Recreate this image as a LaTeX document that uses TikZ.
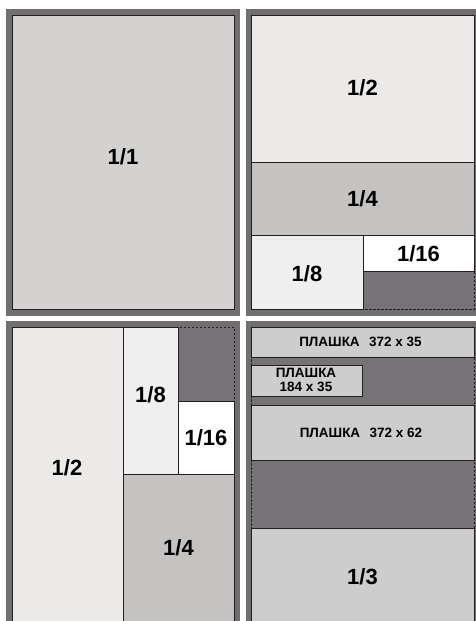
\documentclass[tikz,border=0pt]{standalone}
\usepackage{fontspec}
\setmainfont{Liberation Sans}
\definecolor{framegray}{RGB}{112,110,112}
\definecolor{pone}{RGB}{211,210,209}
\definecolor{half}{RGB}{235,234,232}
\definecolor{quarter}{RGB}{196,195,193}
\definecolor{eighth}{RGB}{238,239,238}
\definecolor{darkfill}{RGB}{117,115,117}
\definecolor{plash}{RGB}{205,205,205}
\definecolor{lineblack}{RGB}{35,31,32}
\begin{document}
\begin{tikzpicture}[x=1pt,y=-1pt,
  box/.style={draw=lineblack,line width=0.8pt},
  innerline/.style={draw=lineblack,line width=0.8pt,dash pattern=on 2.5pt off 1.5pt},
  frac/.style={font=\fontsize{22}{26}\selectfont\bfseries,text=black,inner sep=0pt},
  plashtext/.style={font=\fontsize{13.5}{13.5}\selectfont\bfseries,text=black,align=center,inner sep=0pt}]
\useasboundingbox (0,0) rectangle (476,621);
\fill[white] (0,0) rectangle (476,621);
\clip (0,0) rectangle (476,621);
% frames
\fill[framegray] (6,9) rectangle (240,316);
\fill[framegray] (246,9) rectangle (484,316);
\fill[framegray] (6,321) rectangle (240,630);
\fill[framegray] (246,321) rectangle (484,630);
% panel 1
\draw[box,fill=pone] (12,15) rectangle (234,309);
\node[frac] (t11) at (123,157) {1/1};
% panel 2
\fill[darkfill] (251,15) rectangle (474,309);
\draw[box,fill=half] (251,15) rectangle (474,162);
\draw[box,fill=quarter] (251,162) rectangle (474,235);
\draw[box,fill=eighth] (251,235) rectangle (363,309);
\draw[box,fill=white] (363,235) rectangle (474,271);
\draw[innerline] (251,15) rectangle (474,309);
\node[frac] (b12) at (362.5,88) {1/2};
\node[frac] (b14) at (362.5,199) {1/4};
\node[frac] (b18) at (307,274) {1/8};
\node[frac] (b116) at (418.5,254) {1/16};
% panel 3
\fill[darkfill] (12,327) rectangle (234,640);
\draw[box,fill=half] (12,327) rectangle (123,640);
\draw[box,fill=eighth] (123,327) rectangle (178,474);
\draw[box,fill=white] (178,401) rectangle (234,474);
\draw[box,fill=quarter] (123,474) rectangle (234,640);
\draw[innerline] (12,327) rectangle (234,640);
\node[frac] (c12) at (67,468) {1/2};
\node[frac] (c18) at (150.5,395) {1/8};
\node[frac] (c116) at (206,437.5) {1/16};
\node[frac] (c14) at (178.5,548) {1/4};
% panel 4
\fill[darkfill] (251,327) rectangle (474,640);
\draw[box,fill=plash] (251,327) rectangle (474,357);
\draw[box,fill=plash] (251,365) rectangle (362,396);
\draw[box,fill=plash] (251,405) rectangle (474,460);
\draw[box,fill=plash] (251,528) rectangle (474,640);
\draw[innerline] (251,327) rectangle (474,640);
\node[plashtext] (pl1) at (360.5,342) {ПЛАШКА\hspace{0.7em}372 x 35};
\node[plashtext] (pl2) at (306,380) {ПЛАШКА\\184 x 35};
\node[plashtext] (pl3) at (361,433) {ПЛАШКА\hspace{0.7em}372 x 62};
\node[frac] (d13) at (362.5,577) {1/3};
\end{tikzpicture}
\end{document}
